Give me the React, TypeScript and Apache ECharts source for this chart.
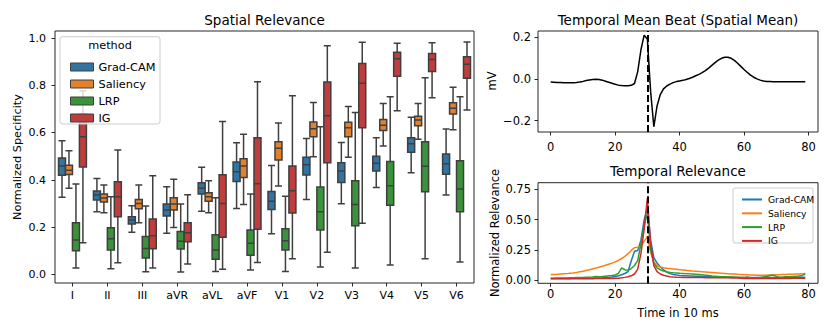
import React, { useEffect, useRef } from 'react';
import * as echarts from 'echarts';

const FONT = 'DejaVu Sans';

const leads = ['I', 'II', 'III', 'aVR', 'aVL', 'aVF', 'V1', 'V2', 'V3', 'V4', 'V5', 'V6'];
const methods = ['Grad-CAM', 'Saliency', 'LRP', 'IG'];
const boxColors = ['#3274a1', '#e1812c', '#3a923a', '#c03d3e'];
const lineColors = ['#1f77b4', '#ff7f0e', '#2ca02c', '#d62728'];

// [min, Q1, median, Q3, max] per lead
const gradCamBoxes = [
  [0.327, 0.420, 0.459, 0.493, 0.566],
  [0.266, 0.316, 0.337, 0.354, 0.407],
  [0.180, 0.214, 0.231, 0.245, 0.292],
  [0.175, 0.248, 0.273, 0.299, 0.372],
  [0.268, 0.341, 0.365, 0.389, 0.454],
  [0.280, 0.394, 0.435, 0.476, 0.558],
  [0.173, 0.276, 0.310, 0.352, 0.462],
  [0.318, 0.421, 0.465, 0.496, 0.576],
  [0.300, 0.390, 0.438, 0.473, 0.559],
  [0.369, 0.438, 0.471, 0.501, 0.579],
  [0.431, 0.518, 0.553, 0.579, 0.665],
  [0.337, 0.425, 0.469, 0.510, 0.616],
];
const saliencyBoxes = [
  [0.365, 0.424, 0.442, 0.463, 0.524],
  [0.262, 0.307, 0.324, 0.341, 0.379],
  [0.220, 0.279, 0.301, 0.318, 0.379],
  [0.200, 0.273, 0.299, 0.325, 0.403],
  [0.262, 0.311, 0.330, 0.346, 0.397],
  [0.297, 0.411, 0.459, 0.490, 0.594],
  [0.375, 0.485, 0.534, 0.562, 0.641],
  [0.499, 0.583, 0.617, 0.645, 0.728],
  [0.496, 0.583, 0.621, 0.644, 0.711],
  [0.544, 0.610, 0.632, 0.656, 0.724],
  [0.572, 0.630, 0.654, 0.670, 0.724],
  [0.613, 0.679, 0.703, 0.727, 0.792],
];
const lrpBoxes = [
  [0.028, 0.101, 0.147, 0.220, 0.383],
  [0.025, 0.104, 0.152, 0.199, 0.330],
  [0.013, 0.071, 0.111, 0.161, 0.290],
  [0.011, 0.109, 0.141, 0.183, 0.299],
  [0.014, 0.065, 0.104, 0.169, 0.325],
  [0.020, 0.082, 0.133, 0.189, 0.341],
  [0.014, 0.104, 0.144, 0.194, 0.332],
  [0.033, 0.189, 0.266, 0.371, 0.625],
  [0.028, 0.207, 0.297, 0.397, 0.686],
  [0.041, 0.294, 0.376, 0.479, 0.752],
  [0.068, 0.351, 0.458, 0.562, 0.832],
  [0.054, 0.266, 0.362, 0.482, 0.752],
];
const igBoxes = [
  [0.135, 0.455, 0.583, 0.680, 0.778],
  [0.051, 0.245, 0.330, 0.393, 0.527],
  [0.028, 0.110, 0.165, 0.235, 0.418],
  [0.045, 0.139, 0.177, 0.220, 0.338],
  [0.023, 0.158, 0.301, 0.422, 0.648],
  [0.052, 0.192, 0.384, 0.579, 0.815],
  [0.068, 0.261, 0.355, 0.459, 0.756],
  [0.095, 0.473, 0.672, 0.814, 0.968],
  [0.217, 0.621, 0.809, 0.893, 0.982],
  [0.693, 0.839, 0.913, 0.940, 0.978],
  [0.748, 0.859, 0.910, 0.935, 0.980],
  [0.696, 0.830, 0.889, 0.921, 0.983],
];

const specTicks = [0, 0.2, 0.4, 0.6, 0.8, 1.0];
const timeTicks = [0, 20, 40, 60, 80];
const mvTicks = [-0.2, 0, 0.2];
const relTicks = [0, 0.25, 0.5, 0.75];
const rPeak = 30;

const meanBeat = [
  -0.015, -0.016, -0.017, -0.017, -0.018, -0.018, -0.018, -0.018, -0.017, -0.015,
  -0.012, -0.008, -0.005, -0.003, -0.002, -0.003, -0.006, -0.011, -0.016, -0.021,
  -0.026, -0.030, -0.032, -0.033, -0.033, -0.031, -0.022, 0.035, 0.140, 0.210,
  0.190, -0.060, -0.230, -0.130, -0.075, -0.048, -0.034, -0.025, -0.018, -0.013,
  -0.010, -0.007, -0.003, 0.002, 0.008, 0.015, 0.022, 0.030, 0.040, 0.052,
  0.065, 0.078, 0.090, 0.099, 0.104, 0.104, 0.099, 0.089, 0.075, 0.060,
  0.045, 0.031, 0.018, 0.008, 0.000, -0.006, -0.010, -0.012, -0.013, -0.014,
  -0.014, -0.014, -0.014, -0.014, -0.014, -0.014, -0.014, -0.014, -0.014, -0.014,
];

const gradCamTime = [
  0.013, 0.013, 0.012, 0.012, 0.013, 0.013, 0.013, 0.014, 0.014, 0.014,
  0.015, 0.015, 0.015, 0.016, 0.016, 0.017, 0.018, 0.020, 0.022, 0.025,
  0.030, 0.036, 0.044, 0.054, 0.070, 0.160, 0.238, 0.245, 0.330, 0.500,
  0.600, 0.330, 0.185, 0.140, 0.110, 0.085, 0.066, 0.053, 0.046, 0.041,
  0.038, 0.036, 0.035, 0.034, 0.033, 0.032, 0.031, 0.030, 0.029, 0.028,
  0.027, 0.026, 0.026, 0.025, 0.024, 0.024, 0.023, 0.023, 0.022, 0.022,
  0.021, 0.021, 0.021, 0.020, 0.020, 0.020, 0.020, 0.020, 0.021, 0.021,
  0.021, 0.021, 0.021, 0.022, 0.022, 0.022, 0.022, 0.023, 0.023, 0.024,
];
const saliencyTime = [
  0.045, 0.046, 0.047, 0.049, 0.051, 0.053, 0.056, 0.059, 0.063, 0.068,
  0.073, 0.079, 0.085, 0.092, 0.099, 0.106, 0.114, 0.122, 0.131, 0.140,
  0.150, 0.162, 0.178, 0.196, 0.218, 0.245, 0.268, 0.272, 0.280, 0.320,
  0.360, 0.230, 0.150, 0.118, 0.108, 0.102, 0.098, 0.095, 0.092, 0.089,
  0.086, 0.083, 0.080, 0.077, 0.074, 0.072, 0.070, 0.068, 0.066, 0.064,
  0.062, 0.060, 0.058, 0.056, 0.054, 0.052, 0.050, 0.049, 0.047, 0.046,
  0.044, 0.043, 0.042, 0.041, 0.040, 0.040, 0.040, 0.040, 0.041, 0.042,
  0.043, 0.044, 0.045, 0.046, 0.047, 0.048, 0.049, 0.050, 0.051, 0.055,
];
const lrpTime = [
  0.015, 0.015, 0.016, 0.016, 0.017, 0.017, 0.018, 0.019, 0.020, 0.021,
  0.022, 0.023, 0.024, 0.026, 0.030, 0.027, 0.029, 0.032, 0.035, 0.038,
  0.042, 0.055, 0.100, 0.085, 0.080, 0.095, 0.120, 0.160, 0.300, 0.450,
  0.550, 0.250, 0.140, 0.100, 0.085, 0.075, 0.068, 0.063, 0.060, 0.058,
  0.056, 0.055, 0.053, 0.051, 0.050, 0.048, 0.046, 0.043, 0.040, 0.037,
  0.034, 0.032, 0.030, 0.028, 0.027, 0.026, 0.025, 0.024, 0.023, 0.022,
  0.020, 0.026, 0.018, 0.016, 0.018, 0.022, 0.026, 0.030, 0.038, 0.042,
  0.030, 0.024, 0.025, 0.027, 0.028, 0.030, 0.032, 0.034, 0.038, 0.050,
];
const igTime = [
  0.010, 0.010, 0.010, 0.010, 0.010, 0.010, 0.010, 0.010, 0.010, 0.011,
  0.011, 0.011, 0.011, 0.011, 0.012, 0.012, 0.012, 0.012, 0.013, 0.013,
  0.014, 0.015, 0.018, 0.022, 0.027, 0.035, 0.050, 0.090, 0.220, 0.420,
  0.680, 0.300, 0.120, 0.070, 0.050, 0.040, 0.033, 0.028, 0.025, 0.023,
  0.022, 0.021, 0.021, 0.021, 0.020, 0.020, 0.020, 0.020, 0.019, 0.019,
  0.019, 0.019, 0.018, 0.018, 0.018, 0.018, 0.017, 0.017, 0.016, 0.015,
  0.013, 0.012, 0.012, 0.012, 0.012, 0.012, 0.012, 0.013, 0.013, 0.013,
  0.013, 0.013, 0.013, 0.013, 0.013, 0.014, 0.014, 0.014, 0.014, 0.015,
];

const boxSets = [gradCamBoxes, saliencyBoxes, lrpBoxes, igBoxes];
const timeSets = [gradCamTime, saliencyTime, lrpTime, igTime];

const AX = '#262626';

function txt(text: string, x: number, y: number, size: number, rot = 0, extra: any = {}) {
  return {
    type: 'text', x, y, rotation: rot, z: 10,
    style: {
      text, fontSize: size, fontFamily: FONT, fill: '#000',
      textAlign: 'center', textVerticalAlign: 'middle', verticalAlign: 'middle', ...extra,
    },
  };
}

export default function App() {
  const ref = useRef<HTMLDivElement>(null);
  useEffect(() => {
    if (!ref.current) return;
    const chart = echarts.init(ref.current, undefined, { renderer: 'svg' });
    const valueX = (gi: number, margin: number) => ({
      type: 'value', gridIndex: gi, min: -3.95, max: 82.95,
      axisLine: { show: false, onZero: false }, splitLine: { show: false },
      axisTick: { show: true, length: 3.5, lineStyle: { color: AX }, customValues: timeTicks },
      axisLabel: { customValues: timeTicks, fontSize: 11.5, fontFamily: FONT, color: '#000', margin, formatter: (v: number) => String(v) },
    });
    const option: any = {
      animation: false,
      grid: [
        { left: 55, top: 31, width: 419, height: 252, show: true, borderColor: AX, borderWidth: 1, backgroundColor: 'transparent' },
        { left: 538, top: 31, width: 280, height: 101, show: true, borderColor: AX, borderWidth: 1, backgroundColor: 'transparent' },
        { left: 538, top: 182.7, width: 280, height: 100.6, show: true, borderColor: AX, borderWidth: 1, backgroundColor: 'transparent' },
      ],
      xAxis: [
        {
          type: 'category', gridIndex: 0, data: leads, boundaryGap: true,
          axisLine: { show: false, onZero: false }, splitLine: { show: false },
          axisTick: { show: true, alignWithLabel: true, length: 3.5, lineStyle: { color: AX } },
          axisLabel: { fontSize: 11, fontFamily: FONT, color: '#000', margin: 7, interval: 0 },
        },
        valueX(1, 8.5),
        valueX(2, 5),
      ],
      yAxis: [
        {
          type: 'value', gridIndex: 0, min: -0.035, max: 1.03,
          axisLine: { show: false, onZero: false }, splitLine: { show: false },
          axisTick: { show: true, length: 3.5, lineStyle: { color: AX }, customValues: specTicks },
          axisLabel: { customValues: specTicks, fontSize: 11, fontFamily: FONT, color: '#000', margin: 9, formatter: (v: number) => v.toFixed(1) },
        },
        {
          type: 'value', gridIndex: 1, min: -0.255, max: 0.23,
          axisLine: { show: false, onZero: false }, splitLine: { show: false },
          axisTick: { show: true, length: 3.5, lineStyle: { color: AX }, customValues: mvTicks },
          axisLabel: {
            customValues: mvTicks, fontSize: 11.5, fontFamily: FONT, color: '#000', margin: 7,
            formatter: (v: number) => (v < 0 ? '\u2212' : '') + Math.abs(v).toFixed(1),
          },
        },
        {
          type: 'value', gridIndex: 2, min: -0.027, max: 0.805,
          axisLine: { show: false, onZero: false }, splitLine: { show: false },
          axisTick: { show: true, length: 3.5, lineStyle: { color: AX }, customValues: relTicks },
          axisLabel: { customValues: relTicks, fontSize: 11.5, fontFamily: FONT, color: '#000', margin: 7, formatter: (v: number) => v.toFixed(2) },
        },
      ],
      legend: [
        {
          orient: 'vertical', left: 65, top: 56, itemWidth: 23, itemHeight: 8, itemGap: 5,
          selectedMode: false, z: 12,
          textStyle: { fontSize: 11.3, fontFamily: FONT, color: '#000', lineHeight: 12 },
          data: methods.map((m, i) => ({ name: m, icon: 'rect', itemStyle: { color: boxColors[i], borderColor: '#3f3f3f', borderWidth: 1 } })),
        },
        {
          orient: 'vertical', left: 737, top: 189.5, itemWidth: 20, itemHeight: 2, itemGap: 3.8,
          selectedMode: false, z: 12,
          textStyle: { fontSize: 9.2, fontFamily: FONT, color: '#000', lineHeight: 10, padding: [0, 0, 0, 1] },
          data: methods.map((m, i) => ({ name: m, icon: 'rect', itemStyle: { color: lineColors[i], borderWidth: 0 } })),
        },
      ],
      graphic: [
        txt('Spatial Relevance', 264.5, 19.5, 13.5),
        txt('Temporal Mean Beat (Spatial Mean)', 678, 19.5, 13.5),
        txt('Temporal Relevance', 678, 171, 13.5),
        txt('Normalized Specificity', 17, 157, 11.3, Math.PI / 2),
        txt('mV', 492, 81, 11.5, Math.PI / 2),
        txt('Normalized Relevance', 495, 233, 11.5, Math.PI / 2),
        txt('Time in 10 ms', 678, 312.5, 11.5),
        {
          type: 'rect', z: 8, shape: { x: 60, y: 36.7, width: 100, height: 87.3, r: 2.5 },
          style: { fill: 'rgba(255,255,255,0.8)', stroke: '#cccccc', lineWidth: 1 },
        },
        txt('method', 110, 45.5, 11.3),
        {
          type: 'rect', z: 8, shape: { x: 733, y: 188, width: 80, height: 55, r: 2 },
          style: { fill: 'rgba(255,255,255,0.8)', stroke: '#cccccc', lineWidth: 1 },
        },
      ],
      series: [
        ...methods.map((m, i) => ({
          type: 'boxplot', name: m, xAxisIndex: 0, yAxisIndex: 0,
          data: boxSets[i], boxWidth: [7, 7], silent: true, z: 2,
          itemStyle: { color: boxColors[i], borderColor: '#3f3f3f', borderWidth: 1.5 },
        })),
        {
          type: 'line', name: 'meanBeat', xAxisIndex: 1, yAxisIndex: 1,
          data: meanBeat.map((v, i) => [i, v]), showSymbol: false, silent: true,
          lineStyle: { color: '#000', width: 1.5 }, z: 2,
          markLine: {
            silent: true, symbol: ['none', 'none'], label: { show: false },
            lineStyle: { color: '#000', width: 2, type: [7, 3] },
            data: [{ xAxis: rPeak }],
          },
        },
        ...methods.map((m, i) => ({
          type: 'line', name: m, xAxisIndex: 2, yAxisIndex: 2,
          data: timeSets[i].map((v, k) => [k, v]), showSymbol: false, silent: true,
          lineStyle: { color: lineColors[i], width: 1.5 }, itemStyle: { color: lineColors[i] }, z: 3,
          ...(i === 3
            ? {
                markLine: {
                  silent: true, symbol: ['none', 'none'], label: { show: false },
                  lineStyle: { color: '#000', width: 2, type: [7, 3] },
                  data: [{ xAxis: rPeak }],
                },
              }
            : {}),
        })),
      ],
    };
    chart.setOption(option);
    return () => chart.dispose();
  }, []);
  return <div ref={ref} style={{ position: 'absolute', left: 0, top: 0, width: 830, height: 332 }} />;
}
